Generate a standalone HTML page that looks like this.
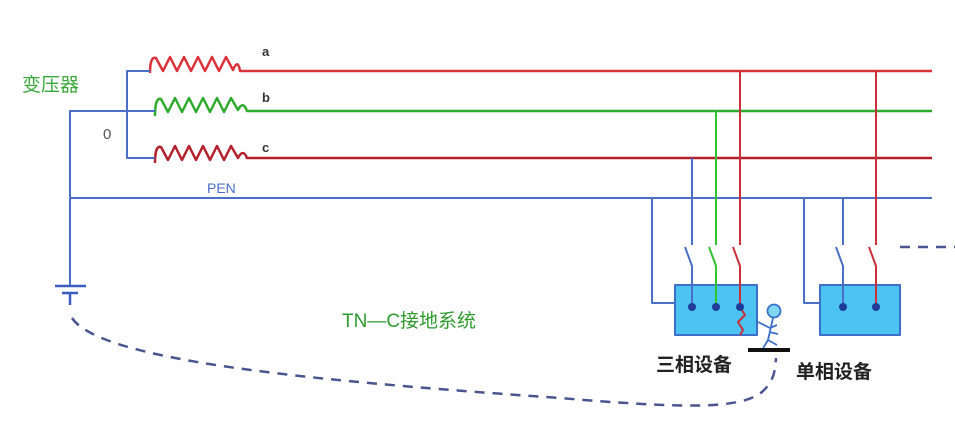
<!DOCTYPE html>
<html><head><meta charset="utf-8"><style>
html,body{margin:0;padding:0;background:#fff;}
svg{display:block}
text{font-family:"Liberation Sans","Noto Sans CJK SC",sans-serif;}
</style></head><body>
<svg width="955" height="435" viewBox="0 0 955 435" xmlns="http://www.w3.org/2000/svg">
<g fill="none" stroke-width="2.5" stroke-linejoin="round">
<!-- coils -->
<path d="M150 73 Q150 56,156 58 L163 71 L170 57 L177 71 L184 57 L191 71 L198 57 L205 71 L212 57 L219 71 L226 57 L233 70 Q238 58,240 71 L932 71" stroke="#d9323a"/>
<path d="M155 116 Q155 97,161 99 L168 112 L175 98 L182 112 L189 98 L196 112 L203 98 L210 112 L217 98 L224 112 L231 98 L238 110 Q243 100,247 111 L932 111" stroke="#2eaa2e"/>
<path d="M155 163 Q155 145,161 147 L168 160 L175 146 L182 160 L189 146 L196 160 L203 146 L210 160 L217 146 L224 160 L231 146 L238 158 Q243 148,247 158 L932 158" stroke="#b3202e"/>
<!-- blue bus -->
<path d="M150 71 H127 V158 H155" stroke="#4a6fc9" stroke-width="2"/>
<path d="M155 111 H70 V286" stroke="#4a6fc9" stroke-width="2"/>
<path d="M70 198 H932" stroke="#4a6fc9" stroke-width="2"/>
<path d="M55 286 H86 M62 293 H78 M70 293 V305" stroke="#3b5cc0" stroke-width="2.5"/>
<!-- boxes -->
<rect x="675" y="285" width="82" height="50" fill="#4cc3f0" stroke="#3b6fc9" stroke-width="2"/>
<rect x="820" y="285" width="80" height="50" fill="#4cc3f0" stroke="#3b6fc9" stroke-width="2"/>
<path d="M652 198 V303 H675 M804 198 V303 H820" stroke="#4a6fc9" stroke-width="2"/>
<path d="M692 158 V245 M685 247 L692 266 V307" stroke="#4a6fc9" stroke-width="2"/>
<path d="M716 111 V245 M709 247 L716 266 V307" stroke="#2ec52e" stroke-width="2"/>
<path d="M740 71 V245 M733 247 L740 266 V307 L745 315 L738 322 L743 330 L740 335" stroke="#c8303a" stroke-width="2"/>
<path d="M843 198 V245 M836 247 L843 266 V307" stroke="#4a6fc9" stroke-width="2"/>
<path d="M876 71 V245 M869 247 L876 266 V307" stroke="#c8303a" stroke-width="2"/>
<!-- person -->
<circle cx="774" cy="311" r="6.5" fill="#7fd6f5" stroke="#3b6fc9" stroke-width="1.8"/>
<path d="M773 318 L768 340 M758 322 L770 328 L777 325 M769 332 L778 334 M768 340 L762 350 M768 340 L777 345" stroke="#3b6fc9" stroke-width="1.8"/>
<path d="M748 350 H790" stroke="#111" stroke-width="4"/>
<!-- dashed -->
<path d="M72 318 C100 360,300 380,560 398 C680 408,740 410,762 392 C775 380,775 370,776 358" stroke="#4a5590" stroke-width="2.5" stroke-dasharray="10 8"/>
<path d="M900 247 H955" stroke="#4a5590" stroke-width="2.5" stroke-dasharray="10 8"/>
</g>
<g fill="#1f3c9a">
<circle cx="692" cy="307" r="4"/><circle cx="716" cy="307" r="4"/><circle cx="740" cy="307" r="4"/>
<circle cx="843" cy="307" r="4"/><circle cx="876" cy="307" r="4"/>
</g>
<text x="262" y="56" font-size="13" font-weight="bold" fill="#333">a</text>
<text x="262" y="102" font-size="13" font-weight="bold" fill="#333">b</text>
<text x="262" y="152" font-size="13" font-weight="bold" fill="#333">c</text>
<text x="22" y="91" font-size="19" fill="#3aa83a">变压器</text>
<text x="103" y="139" font-size="15" fill="#555">0</text>
<text x="207" y="193" font-size="14" fill="#4a6fc9">PEN</text>
<text x="342" y="327" font-size="19" fill="#2e9a2e">TN—C接地系统</text>
<text x="656" y="371" font-size="19" font-weight="bold" fill="#222">三相设备</text>
<text x="796" y="378" font-size="19" font-weight="bold" fill="#222">单相设备</text>
</svg>
</body></html>
